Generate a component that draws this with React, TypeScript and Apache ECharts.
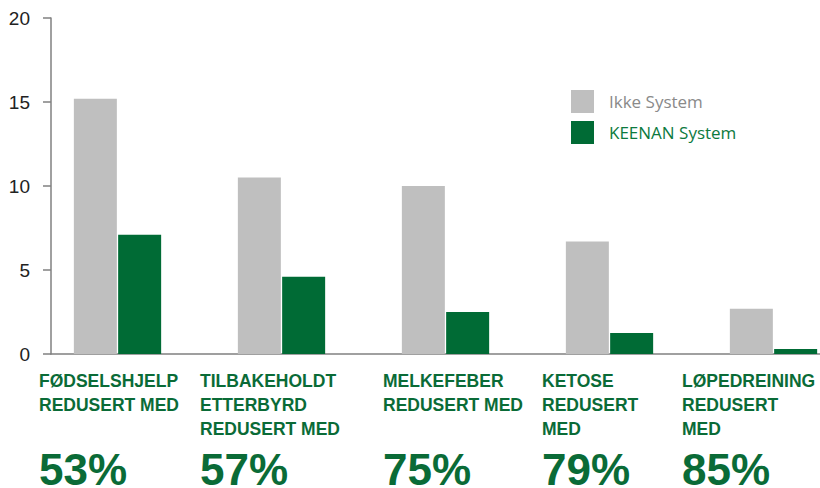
import React, { useEffect, useRef } from "react";
import * as echarts from "echarts";

const categories = ["FØDSELSHJELP", "TILBAKEHOLDT ETTERBYRD", "MELKEFEBER", "KETOSE", "LØPEDREINING"];
const categoryLines = [
  ["FØDSELSHJELP", "REDUSERT MED"],
  ["TILBAKEHOLDT", "ETTERBYRD", "REDUSERT MED"],
  ["MELKEFEBER", "REDUSERT MED"],
  ["KETOSE", "REDUSERT", "MED"],
  ["LØPEDREINING", "REDUSERT", "MED"],
];
const reductions = ["53%", "57%", "75%", "79%", "85%"];
const ikkeSystem = [15.2, 10.5, 10.0, 6.7, 2.7];
const keenanSystem = [7.1, 4.6, 2.5, 1.25, 0.3];
const yTicks = [0, 5, 10, 15, 20];

// layout (left edge of each annotation block)
const annotationX = [39, 200, 383, 542, 682];

const GRAY = "#bfbfbf";
const GREEN = "#006b35";
const TEXT_GREEN = "#0a6b37";

export default function App() {
  const ref = useRef<HTMLDivElement>(null);

  useEffect(() => {
    if (!ref.current) return;
    const chart = echarts.init(ref.current, undefined, { renderer: "svg" });

    const graphics: any[] = [];
    categories.forEach((_, i) => {
      graphics.push({
        type: "text",
        left: annotationX[i],
        top: 369,
        style: {
          text: categoryLines[i].join("\n"),
          fill: TEXT_GREEN,
          font: "bold 17.5px 'Liberation Sans', Arial, sans-serif",
          lineHeight: 24,
        },
      });
      graphics.push({
        type: "text",
        left: annotationX[i],
        top: 447,
        style: {
          text: reductions[i],
          fill: TEXT_GREEN,
          font: "bold 44px 'Liberation Sans', Arial, sans-serif",
          lineHeight: 44,
        },
      });
    });

    chart.setOption({
      animation: false,
      backgroundColor: "#ffffff",
      textStyle: { fontFamily: "'Liberation Sans', Arial, sans-serif" },
      grid: [
        { left: 35.5, top: 18, width: 820, height: 336, containLabel: false, outerBoundsMode: "none" },
        { left: 51, top: 18, right: 0, height: 336, containLabel: false, outerBoundsMode: "none" },
      ],
      legend: {
        orient: "vertical",
        left: 566,
        top: 85,
        itemWidth: 23,
        itemHeight: 23,
        itemGap: 8,
        icon: "rect",
        selectedMode: false,
        textStyle: {
          fontFamily: "'Open Sans', Lato, sans-serif",
          fontSize: 17,
          padding: [0, 0, 0, 10],
        },
        data: [
          { name: "Ikke System", textStyle: { color: "#8a8a8a" } },
          { name: "KEENAN System", textStyle: { color: "#0c7a3e" } },
        ],
      },
      xAxis: [
        {
          gridIndex: 0,
          type: "category",
          data: categories,
          axisLine: { show: false },
          axisTick: { show: false },
          axisLabel: { show: false },
          splitLine: { show: false },
        },
        {
          gridIndex: 1,
          type: "value",
          min: 0,
          max: 1,
          axisLine: { show: true, lineStyle: { color: "#808080", width: 1.5 } },
          axisTick: { show: false },
          axisLabel: { show: false },
          splitLine: { show: false },
        },
      ],
      yAxis: [
        {
          gridIndex: 0,
          type: "value",
          min: yTicks[0],
          max: yTicks[yTicks.length - 1],
          interval: 5,
          show: false,
        },
        {
          gridIndex: 1,
          type: "value",
          min: yTicks[0],
          max: yTicks[yTicks.length - 1],
          interval: 5,
          axisLine: { show: true, lineStyle: { color: "#808080", width: 1.5 } },
          axisTick: { show: true, length: 8, lineStyle: { color: "#808080", width: 1.5 } },
          axisLabel: {
            show: true,
            margin: 21,
            color: "#222222",
            fontSize: 19,
            fontFamily: "'Liberation Sans', Arial, sans-serif",
          },
          splitLine: { show: false },
        },
      ],
      series: [
        {
          name: "Ikke System",
          type: "bar",
          xAxisIndex: 0,
          yAxisIndex: 0,
          data: ikkeSystem,
          barWidth: 43,
          barGap: "3%",
          itemStyle: { color: GRAY },
        },
        {
          name: "KEENAN System",
          type: "bar",
          xAxisIndex: 0,
          yAxisIndex: 0,
          data: keenanSystem,
          barWidth: 43,
          barGap: "3%",
          itemStyle: { color: GREEN },
        },
      ],
      graphic: graphics,
    });

    return () => chart.dispose();
  }, []);

  return <div ref={ref} style={{ width: 820, height: 488, position: "absolute", left: 0, top: 0 }} />;
}
